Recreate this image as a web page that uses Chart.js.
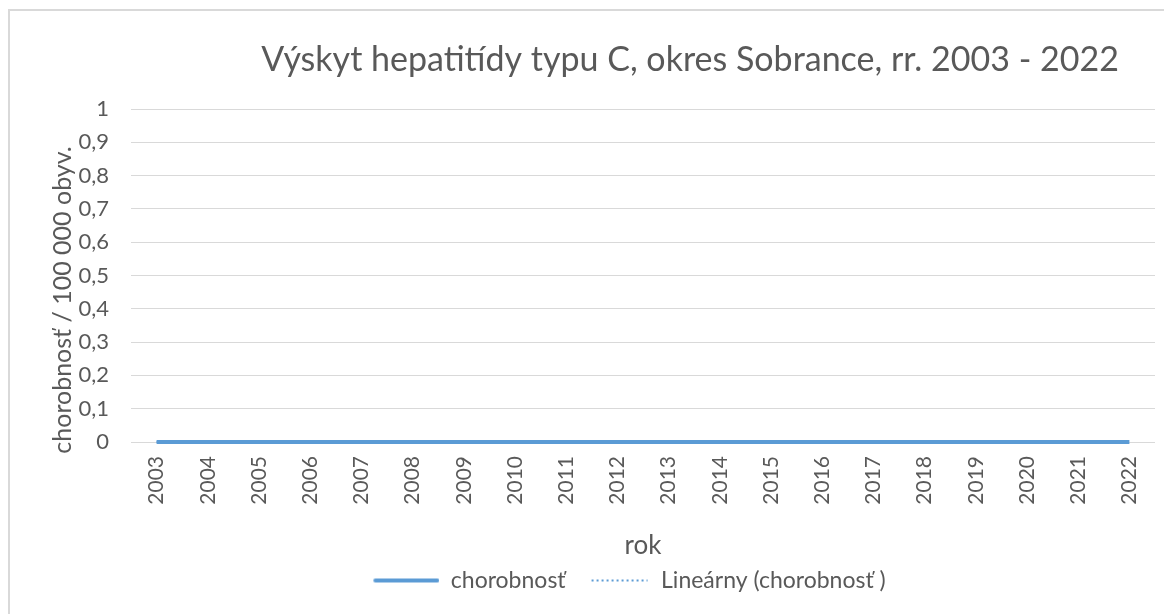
<!DOCTYPE html>
<html>
<head>
<meta charset="utf-8">
<script src="https://cdn.jsdelivr.net/npm/chart.js@4/dist/chart.umd.min.js"></script>
<style>
	body { margin: 0; background: #fff; overflow: hidden; }
	#frame { position: absolute; left: 8px; top: 9px; width: 1200px; height: 700px; border-left: 2px solid #d9d9d9; border-top: 2px solid #d9d9d9; }
	#chart { position: absolute; left: 0; top: 0; }
</style>
</head>
<body>
<div id="frame"></div>
<canvas id="chart" width="1164" height="614"></canvas>
<script>
var years = ["2003", "2004", "2005", "2006", "2007", "2008", "2009", "2010", "2011", "2012",
	"2013", "2014", "2015", "2016", "2017", "2018", "2019", "2020", "2021", "2022"];
var chorobnost = [0, 0, 0, 0, 0, 0, 0, 0, 0, 0, 0, 0, 0, 0, 0, 0, 0, 0, 0, 0];
var trend = [0, 0, 0, 0, 0, 0, 0, 0, 0, 0, 0, 0, 0, 0, 0, 0, 0, 0, 0, 0];
var CHART_TITLE = "Výskyt hepatitídy typu C, okres Sobrance, rr. 2003 - 2022";
var Y_TITLE = "chorobnosť / 100 000 obyv.";

var TEXT_COLOR = "#595959";
var BLUE = "#5b9bd5";
var FONT = "Lato, 'Open Sans', sans-serif";

/* legend symbols: the built-in line point style ignores the dash, so draw them ourselves */
function makeLegendLine(from, dash, lineWidth) {
	var c = document.createElement("canvas");
	c.width = 74;
	c.height = 6;
	var cx = c.getContext("2d");
	cx.strokeStyle = BLUE;
	cx.lineWidth = lineWidth;
	cx.lineCap = dash.length ? "butt" : "round";
	cx.setLineDash(dash);
	cx.beginPath();
	cx.moveTo(from, 3);
	cx.lineTo(72, 3);
	cx.stroke();
	return c;
}
var solidSymbol = makeLegendLine(10, [], 4);
var dotSymbol = makeLegendLine(16, [2, 3], 2);

// chart title and y title sit off-centre in the original, so draw them by hand
var titlePlugin = {
	id: 'ownTitle',
	afterLayout: function(chart) {
		// original legend is centred under the plot, not the canvas
		chart.legend.left += 43;
		chart.legend.right += 43;
	},
	afterDraw: function(chart) {
		var ctx = chart.ctx;
		ctx.save();
		ctx.fillStyle = TEXT_COLOR;
		ctx.textAlign = "center";
		ctx.textBaseline = "middle";
		ctx.font = "34px " + FONT;
		ctx.fillText(CHART_TITLE, 690, 60);
		ctx.translate(63, 300);
		ctx.rotate(-Math.PI / 2);
		ctx.font = "25px " + FONT;
		ctx.fillText(Y_TITLE, 0, 0);
		ctx.restore();
	}
};

new Chart(document.getElementById("chart"), {
	type: 'line',
	data: {
		labels: years,
		datasets: [{
			label: "chorobnosť",
			data: chorobnost,
			borderColor: BLUE,
			backgroundColor: BLUE,
			borderWidth: 4,
			pointRadius: 0,
			clip: false,
			fill: false
		}, {
			label: "Lineárny (chorobnosť )",
			data: trend,
			borderColor: BLUE,
			backgroundColor: BLUE,
			borderWidth: 2,
			borderDash: [2, 3],
			pointRadius: 0,
			clip: false,
			fill: false
		}]
	},
	options: {
		responsive: false,
		animation: false,
		layout: { padding: { top: 109, left: 10, right: 9, bottom: 12 } },
		plugins: {
			title: { display: false },
			tooltip: { enabled: false },
			legend: {
				position: 'bottom',
				labels: {
					usePointStyle: true,
					pointStyleWidth: 74,
					boxHeight: 6,
					color: TEXT_COLOR,
					font: { family: FONT, size: 23, lineHeight: 1 },
					padding: 10,
					generateLabels: function(chart) {
						var items = Chart.defaults.plugins.legend.labels.generateLabels(chart);
						items[0].pointStyle = solidSymbol;
						items[1].pointStyle = dotSymbol;
						return items;
					}
				}
			}
		},
		scales: {
			x: {
				offset: true,
				grid: { display: false },
				border: { display: false },
				ticks: {
					color: TEXT_COLOR,
					font: { family: FONT, size: 21 },
					minRotation: 90,
					maxRotation: 90,
					autoSkip: false,
					padding: 6
				},
				title: {
					display: true,
					text: "rok",
					color: TEXT_COLOR,
					font: { family: FONT, size: 26, lineHeight: 1 },
					padding: { top: 0, bottom: 0 }
				},
				afterFit: function(scale) { scale.height = 117; }
			},
			y: {
				min: 0,
				max: 1,
				grid: { color: "#d9d9d9", drawTicks: false },
				border: { display: false },
				ticks: {
					stepSize: 0.1,
					color: TEXT_COLOR,
					font: { family: FONT, size: 22 },
					padding: 22,
					callback: function(v) { return (Math.round(v * 10) / 10).toString().replace(".", ","); }
				},
				afterFit: function(scale) { scale.width = 121; }
			}
		}
	},
	plugins: [titlePlugin]
});
</script>
</body>
</html>
